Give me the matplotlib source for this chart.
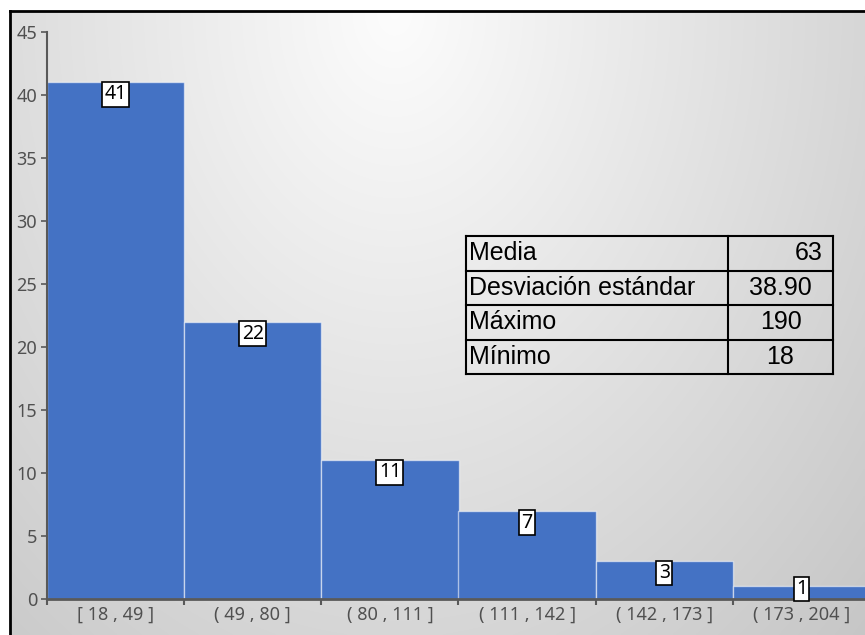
import numpy as np
import matplotlib
matplotlib.use("Agg")
import matplotlib.pyplot as plt
from matplotlib.lines import Line2D

# Frequency distribution
bins = ["[ 18 , 49 ]", "( 49 , 80 ]", "( 80 , 111 ]", "( 111 , 142 ]", "( 142 , 173 ]", "( 173 , 204 ]"]
counts = [41, 22, 11, 7, 3, 1]

# Summary statistics
stat_names = ["Media", "Desviación estándar", "Máximo", "Mínimo"]
stat_values = ["63", "38.90", "190", "18"]
stat_align = ["right", "center", "center", "center"]

W, H = 865, 635
fig = plt.figure(figsize=(W / 100, H / 100), dpi=100)
fig.patch.set_facecolor("white")

# Grey radial-gradient panel behind the chart
bg = fig.add_axes([10 / W, 0, 1 - 10 / W, 1 - 11 / H])
bg.set_axis_off()
nx, ny = 400, 300
xs = np.linspace(0, 1, nx)
ys = np.linspace(0, 1, ny)
X, Y = np.meshgrid(xs, ys)
d = np.sqrt(((X - 0.45) / 0.55) ** 2 + (Y / 1.0) ** 2)
g = np.clip(0.99 - 0.15 * d, 0.78, 0.99)
img = np.dstack([g, g, g])
bg.imshow(img, aspect="auto", extent=[0, 1, 1, 0], interpolation="bilinear")
bg.set_xlim(0, 1)
bg.set_ylim(1, 0)

# Panel frame (top and left edges visible)
fig.add_artist(Line2D([10 / W, 10 / W], [0, 1 - 11 / H], transform=fig.transFigure,
                      color="black", lw=2))
fig.add_artist(Line2D([10 / W, 1], [1 - 11 / H, 1 - 11 / H], transform=fig.transFigure,
                      color="black", lw=2))

# Histogram axes
left = 47 / W
bottom = 36 / H
width = 823 / W
height = 567 / H
ax = fig.add_axes([left, bottom, width, height])
ax.patch.set_alpha(0)

x = np.arange(len(counts))
ax.bar(x, counts, width=1.0, color="#4472C4", edgecolor=(1, 1, 1, 0.55), linewidth=1.0,
       zorder=2)

ax.set_xlim(-0.5, len(counts) - 0.5)
ax.set_ylim(0, 45)
ax.set_yticks(range(0, 46, 5))
ax.set_xticks(np.arange(-0.5, len(counts), 1.0))
ax.set_xticklabels([])
ax.set_xticks(x, minor=True)
ax.set_xticklabels(bins, minor=True)
ax.tick_params(axis="x", which="minor", length=0, pad=5)
ax.tick_params(axis="x", which="major", length=4, width=1.5, color="#595959")
ax.tick_params(axis="y", length=4, width=1.2, color="#595959", pad=3)

for lab in ax.get_yticklabels() + ax.get_xticklabels(minor=True):
    lab.set_fontfamily("Noto Sans")
    lab.set_fontsize(13)
    lab.set_color("#505050")

for side in ("top", "right"):
    ax.spines[side].set_visible(False)
ax.spines["left"].set_color("#595959")
ax.spines["left"].set_linewidth(1.5)
ax.spines["bottom"].set_color("#595959")
ax.spines["bottom"].set_linewidth(2)
ax.spines["left"].set_zorder(3)
ax.spines["bottom"].set_zorder(3)

# Value labels in boxes just below each bar top
for xi, c in zip(x, counts):
    ax.text(xi, max(c, 1.75) - 0.15, str(c), ha="center", va="top", fontsize=14,
            family="Noto Sans", color="black", zorder=4,
            bbox=dict(boxstyle="square,pad=0.12", facecolor="white", edgecolor="black",
                      linewidth=1.2))

# Statistics table
tx0, tx1, tdiv = 466, 833, 728
ty0, ty1 = 236, 374
rows = len(stat_names)
rh = (ty1 - ty0) / rows

def fx(px):
    return px / W

def fy(py):
    return 1 - py / H

lw = 1.5
for yy in [ty0 + i * rh for i in range(rows + 1)]:
    fig.add_artist(Line2D([fx(tx0), fx(tx1)], [fy(yy), fy(yy)], transform=fig.transFigure,
                          color="black", lw=lw))
for xx in (tx0, tdiv, tx1):
    fig.add_artist(Line2D([fx(xx), fx(xx)], [fy(ty0), fy(ty1)], transform=fig.transFigure,
                          color="black", lw=lw))

for i, (name, val, al) in enumerate(zip(stat_names, stat_values, stat_align)):
    yc = ty0 + (i + 0.5) * rh
    fig.text(fx(tx0 + 3), fy(yc), name, ha="left", va="center", fontsize=18,
             family="Liberation Sans", color="black")
    if al == "right":
        xv = tx1 - 10
    else:
        xv = (tdiv + tx1) / 2
    fig.text(fx(xv), fy(yc), val, ha=al, va="center", fontsize=18,
             family="Liberation Sans", color="black")

fig.savefig("out.png", dpi=100)
